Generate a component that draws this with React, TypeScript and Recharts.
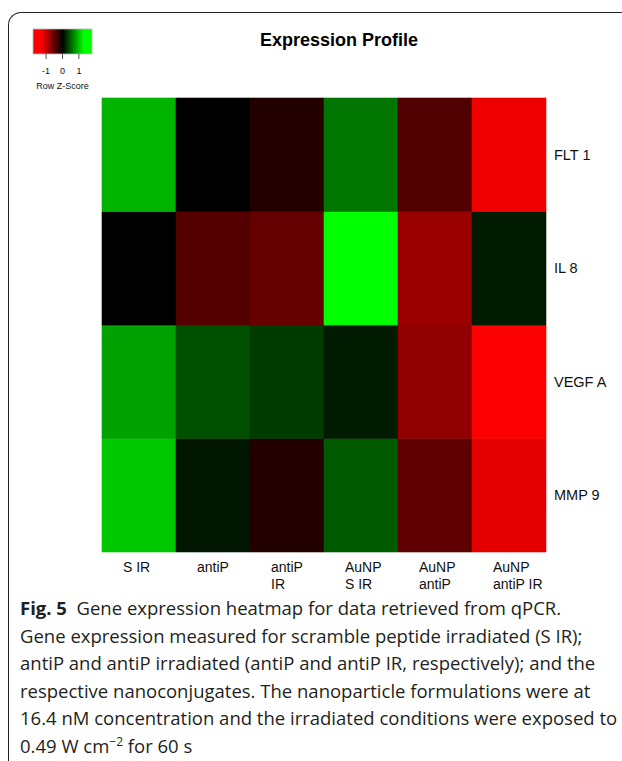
import React from 'react';
import { BarChart, Bar, XAxis, YAxis, Cell } from 'recharts';

// heatmap columns (treatment conditions), "\n" = line break in tick label
const conditions = ['S IR', 'antiP', 'antiP\nIR', 'AuNP\nS IR', 'AuNP\nantiP', 'AuNP\nantiP IR'];

// rows, top to bottom
const genes = ['FLT 1', 'IL 8', 'VEGF A', 'MMP 9'];

// row z-scores (one list per gene, same order as conditions)
const flt1 = [0.92, 0.0, -0.18, 0.6, -0.41, -1.22];
const il8 = [0.0, -0.43, -0.51, 1.4, -0.79, 0.14];
const vegfa = [0.82, 0.41, 0.3, 0.14, -0.74, -1.28];
const mmp9 = [1.02, 0.11, -0.18, 0.46, -0.48, -1.16];

const keyTicks = [-1, 0, 1];

const zRows = [flt1, il8, vegfa, mmp9];
const SAT = 1.3; // z at which the red/green saturates
const KEY_MIN = -1.8;
const KEY_MAX = 1.8;

const zColor = (z: number) => {
  const t = Math.round(Math.min(1, Math.abs(z) / SAT) * 255);
  return z >= 0 ? `rgb(0,${t},0)` : `rgb(${t},0,0)`;
};

// one row per condition, every gene a stacked block of height 1
const tableData = conditions.map((c) => {
  const row: Record<string, string | number> = { condition: c };
  genes.forEach((g) => (row[g] = 1));
  return row;
});

const ConditionTick = (props: any) => {
  const { x, y, payload } = props;
  const lines = String(payload.value).split('\n');
  return (
    <text x={x - 16} y={y + 12} fill="#111" fontSize={14} fontFamily="Liberation Sans, Arial, sans-serif">
      {lines.map((l, i) => (
        <tspan key={i} x={x - 16} dy={i === 0 ? 0 : 17}>
          {l}
        </tspan>
      ))}
    </text>
  );
};

const ColorKey = () => {
  const w = 59;
  const toX = (v: number) => ((v - KEY_MIN) / (KEY_MAX - KEY_MIN)) * w;
  const satL = toX(-SAT) / w;
  const satR = toX(SAT) / w;
  return (
    <svg width={80} height={70} style={{ position: 'absolute', left: 23, top: 23 }}>
      <defs>
        <linearGradient id="zkey" x1="0" x2="1" y1="0" y2="0">
          <stop offset={0} stopColor="#ff0000" />
          <stop offset={satL} stopColor="#ff0000" />
          <stop offset={0.5} stopColor="#000000" />
          <stop offset={satR} stopColor="#00ff00" />
          <stop offset={1} stopColor="#00ff00" />
        </linearGradient>
      </defs>
      <g transform="translate(10,6)">
        <rect x={0} y={0} width={w} height={25} fill="url(#zkey)" stroke="#bbb" strokeWidth={0.8} />
        {keyTicks.map((t) => (
          <g key={t}>
            <line x1={toX(t)} x2={toX(t)} y1={25} y2={30} stroke="#555" strokeWidth={1} />
            <text x={toX(t)} y={45} textAnchor="middle" fontSize={9} fill="#111" fontFamily="Liberation Sans, Arial, sans-serif">
              {t}
            </text>
          </g>
        ))}
        <text x={w / 2} y={60} textAnchor="middle" fontSize={9} fill="#111" fontFamily="Liberation Sans, Arial, sans-serif">
          Row Z-Score
        </text>
      </g>
    </svg>
  );
};

export default function App() {
  return (
    <div style={{ position: 'fixed', left: 0, top: 0, width: 622, height: 761, overflow: 'hidden', background: '#fff' }}>
      <div
        style={{
          position: 'absolute',
          left: 8,
          top: 12,
          width: 800,
          height: 900,
          borderTop: '1.5px solid #222',
          borderLeft: '1.5px solid #222',
          borderTopLeftRadius: 13,
        }}
      />
      <div
        style={{
          position: 'absolute',
          left: 0,
          width: 678,
          top: 30,
          textAlign: 'center',
          fontFamily: 'Liberation Sans, Arial, sans-serif',
          fontWeight: 'bold',
          fontSize: 18,
          lineHeight: '20px',
          color: '#000',
        }}
      >
        Expression Profile
      </div>
      <ColorKey />
      <div style={{ position: 'absolute', left: 0, top: 0 }}>
        <BarChart
          width={622}
          height={620}
          data={tableData}
          margin={{ top: 98, left: 102, right: 6, bottom: 38 }}
          barCategoryGap={0}
        >
          <XAxis dataKey="condition" tickLine={false} axisLine={false} interval={0} tick={<ConditionTick />} height={30} />
          <YAxis
            orientation="right"
            type="number"
            domain={[0, genes.length]}
            ticks={genes.map((_, i) => i + 0.5)}
            tickFormatter={(v: number) => genes[genes.length - 1 - Math.floor(v)]}
            tickLine={false}
            axisLine={false}
            width={70}
            tick={{ fill: '#111', fontSize: 14.5, fontFamily: 'Liberation Sans, Arial, sans-serif', textAnchor: 'start' }}
          />
          {genes
            .slice()
            .reverse()
            .map((g) => {
              const z = zRows[genes.indexOf(g)];
              return (
                <Bar key={g} dataKey={g} stackId="heat" isAnimationActive={false}>
                  {tableData.map((_, j) => (
                    <Cell key={j} fill={zColor(z[j])} stroke={zColor(z[j])} strokeWidth={0.6} />
                  ))}
                </Bar>
              );
            })}
        </BarChart>
      </div>
      <div
        style={{
          position: 'absolute',
          left: 20,
          top: 594,
          width: 610,
          fontFamily: '"Open Sans", "Noto Sans", sans-serif',
          fontSize: 18.5,
          lineHeight: '27.5px',
          color: '#231f20',
          whiteSpace: 'nowrap',
        }}
      >
        <b style={{ fontWeight: 700 }}>Fig. 5</b>&nbsp; Gene expression heatmap for data retrieved from qPCR.
        <br />
        Gene expression measured for scramble peptide irradiated (S IR);
        <br />
        antiP and antiP irradiated (antiP and antiP IR, respectively); and the
        <br />
        respective nanoconjugates. The nanoparticle formulations were at
        <br />
        16.4 nM concentration and the irradiated conditions were exposed to
        <br />
        0.49 W cm<sup style={{ fontSize: 12, lineHeight: 0 }}>−2</sup> for 60 s
      </div>
    </div>
  );
}
